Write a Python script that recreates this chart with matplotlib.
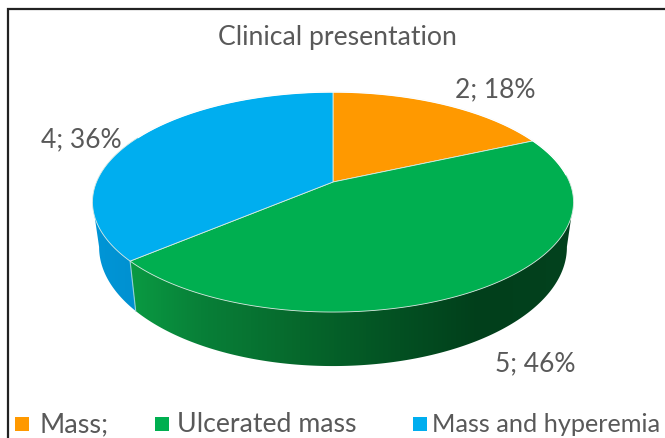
import numpy as np
import matplotlib
matplotlib.use("Agg")
import matplotlib.pyplot as plt
from matplotlib.patches import Polygon, Rectangle
from matplotlib.colors import LinearSegmentedColormap

title = "Clinical presentation"
categories = ["Mass;", "Ulcerated mass", "Mass and hyperemia"]
counts = [2, 5, 4]
percents = [18, 46, 36]

colors = ["#FF9900", "#00AF50", "#00AEEF"]
TEXT = "#595959"
plt.rcParams["font.family"] = ["Lato", "DejaVu Sans"]

fig = plt.figure(figsize=(6.65, 4.39), dpi=100)
ax = fig.add_axes([0, 0, 1, 1])


def top_xy(theta):
    u, v = np.sin(theta), np.cos(theta)
    d = 1 + 0.1818 * v
    return 333 + 236.5 * u / d, 183 - 106.4 * v / d


def bottom_xy(theta):
    u, v = np.sin(theta), np.cos(theta)
    d = 1 + 0.1818 * v
    return 333 + 230 * u / d, 226.5 - 115 * v / d


green_wall = [(120, "#0A9E44"), (200, "#088038"), (300, "#06682C"), (400, "#035022"), (480, "#013F1B"), (580, "#03421E")]
blue_wall = [(85, "#0096D8"), (145, "#0090CF")]
side_stops = [None, green_wall, blue_wall]

edges = np.concatenate([[0], np.cumsum(counts)]) / sum(counts) * 2 * np.pi

# side wall: a horizontal gradient clipped to the visible part of each slice
for i in (2, 1):
    th = np.linspace(edges[i], edges[i + 1], 400)
    tx, ty = top_xy(th)
    bx, by = bottom_xy(th)
    if i == 1:   # keep from the right-most point to the slice's end
        ja, jb, je = int(np.argmax(tx)), int(np.argmax(bx)), len(th) - 1
        outline = [(tx[ja], ty[ja])] + list(zip(bx[jb:je + 1], by[jb:je + 1])) + [(tx[je], ty[je])]
    else:        # keep from the slice's start to the left-most point
        ja, jb = int(np.argmin(tx)), int(np.argmin(bx))
        outline = [(tx[0], ty[0])] + list(zip(bx[:jb + 1], by[:jb + 1])) + [(tx[ja], ty[ja])]
    outline.append((333, 183))
    x0, x1 = side_stops[i][0][0], side_stops[i][-1][0]
    cm = LinearSegmentedColormap.from_list(
        f"wall{i}", [((x - x0) / (x1 - x0), c) for x, c in side_stops[i]])
    grad = np.linspace(0, 1, 512)[None, :]
    im = ax.imshow(grad, cmap=cm, extent=(x0, x1, 439, 0), aspect="auto", zorder=2)
    clip = Polygon(outline, closed=True, transform=ax.transData, facecolor="none", edgecolor="none")
    ax.add_patch(clip)
    im.set_clip_path(clip)

ax.set_xlim(0, 665)
ax.set_ylim(439, 0)
ax.axis("off")

# edge between blue and green walls
ax.plot(*zip(top_xy(edges[2]), bottom_xy(edges[2])), color="#8fd0d8", lw=0.8, zorder=3)

# top face
for i, col in enumerate(colors):
    th = np.linspace(edges[i], edges[i + 1], 240)
    xs, ys = top_xy(th)
    pts = [(333, 183)] + list(zip(xs, ys))
    ax.add_patch(Polygon(pts, closed=True, facecolor=col, edgecolor="#dcebe4", lw=0.6, zorder=4))
th = np.linspace(-1.1, 1.5, 200)
xs, ys = top_xy(th)
ax.plot(xs, ys, color="white", lw=1.0, zorder=5)

# frame, running off the right and bottom of the picture
ax.plot([8, 8, 665], [439, 10, 10], color="#222222", lw=1.6, zorder=6, clip_on=False,
        solid_joinstyle="miter")

ax.text(337.5, 37, title, ha="center", va="center", fontsize=19.2, color=TEXT, zorder=7)

label_xy = [(495, 90), (535, 364), (81, 140)]
for n, p, (x, y) in zip(counts, percents, label_xy):
    ax.text(x, y, f"{n}; {p}%", ha="center", va="center", fontsize=19, color=TEXT, zorder=7)

swatch_x = [15, 155, 413]
text_x = [40, 177, 432]
legend_size = [19.5, 19.2, 18.2]
for name, col, sx, tx, fs in zip(categories, colors, swatch_x, text_x, legend_size):
    ax.add_patch(Rectangle((sx, 418), 14, 14, facecolor=col, edgecolor="none", zorder=7))
    ax.text(tx, 425, name, ha="left", va="center", fontsize=fs, color=TEXT, zorder=7)

fig.savefig("out.png", dpi=100)
